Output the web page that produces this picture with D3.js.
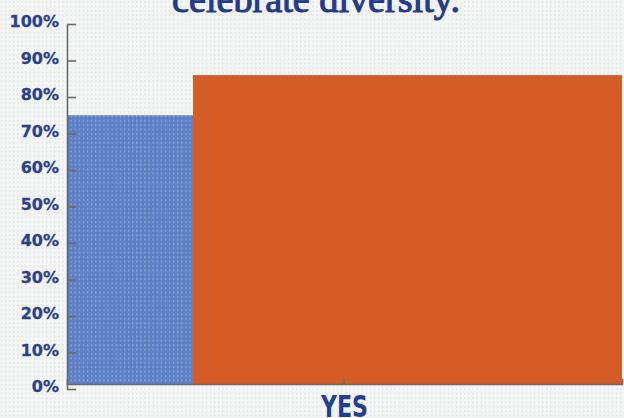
<!DOCTYPE html>
<html>
<head>
<meta charset="utf-8">
<script src="https://cdn.jsdelivr.net/npm/d3@7"></script>
<style>
  html, body { margin: 0; padding: 0; background: #f4f6f6; }
  svg { display: block; }
</style>
</head>
<body>
<svg id="chart" width="624" height="418"></svg>
<script>
// Chart data
const titleText = "celebrate diversity.";
const categories = ["YES"];
const seriesNames = ["Group A", "Group B"];
const seriesValues = [75, 86];
const seriesColors = ["#5d7fc5", "#d45c27"];
const tickValues = [0, 10, 20, 30, 40, 50, 60, 70, 80, 90, 100];

const W = 624, H = 418;
const svg = d3.select("#chart");

// Dotted backdrop patterns
const defs = svg.append("defs");
const bgDots = defs.append("pattern")
  .attr("id", "bgDots").attr("patternUnits", "userSpaceOnUse")
  .attr("width", 4.1).attr("height", 4.4);
bgDots.append("rect").attr("width", 4.1).attr("height", 4.4).attr("fill", "#f4f6f6");
bgDots.append("rect").attr("x", 1).attr("y", 1).attr("width", 1).attr("height", 2)
  .attr("fill", "#dcdfe0");

const barDots = defs.append("pattern")
  .attr("id", "barDots").attr("patternUnits", "userSpaceOnUse")
  .attr("width", 4.1).attr("height", 4.4);
barDots.append("rect").attr("width", 4.1).attr("height", 4.4).attr("fill", seriesColors[0]);
barDots.append("rect").attr("x", 1).attr("y", 1).attr("width", 1).attr("height", 2)
  .attr("fill", "#ffffff").attr("opacity", 0.38);

svg.append("rect").attr("width", W).attr("height", H).attr("fill", "url(#bgDots)");

// Scales
const y = d3.scaleLinear().domain([0, 100]).range([389, 24]);
const x = d3.scaleBand().domain(categories).range([67, 622]).paddingInner(0).paddingOuter(0);
const baseline = y(0) - 5;

// Split of the category band between the two series
const splitShare = [0, 0.227, 1];
const bandX = d => x(categories[0]) + x.bandwidth() * d;

const bars = svg.append("g");
seriesValues.forEach((v, i) => {
  bars.append("rect")
    .attr("x", bandX(splitShare[i]))
    .attr("width", bandX(splitShare[i + 1]) - bandX(splitShare[i]))
    .attr("y", y(v))
    .attr("height", baseline - y(v))
    .attr("fill", i === 0 ? "url(#barDots)" : seriesColors[i]);
});

// Y axis
const yAxis = d3.axisLeft(y)
  .tickValues(tickValues)
  .tickFormat(d => d + "%")
  .tickSizeInner(-9)
  .tickSizeOuter(0)
  .tickPadding(8);
const gy = svg.append("g").attr("transform", "translate(67,0)").call(yAxis);
gy.selectAll("path, line").attr("stroke", "#6a6a6a").attr("stroke-width", 1.6);
gy.selectAll("text")
  .attr("fill", "#2b4289")
  .attr("stroke", "#2b4289").attr("stroke-width", 0.3)
  .attr("dy", "0.32em")
  .attr("y", -2.5)
  .style("font-family", "DejaVu Sans")
  .style("font-weight", "bold")
  .style("font-size", "16px");

// X axis
const xAxis = d3.axisBottom(x).tickSizeInner(-5).tickSizeOuter(-5).tickPadding(16);
const gx = svg.append("g").attr("transform", `translate(0,${baseline})`).call(xAxis);
gx.selectAll("path, line").attr("stroke", "#6a6a6a").attr("stroke-width", 1.6);
gx.selectAll("text")
  .attr("fill", "#24408c")
  .attr("y", 33)
  .attr("dy", 0)
  .attr("textLength", 47)
  .attr("lengthAdjust", "spacingAndGlyphs")
  .style("font-family", "DejaVu Sans")
  .style("font-weight", "bold")
  .style("font-size", "30px");

// Title (partly above the frame)
svg.append("text")
  .attr("x", 316).attr("y", 12)
  .attr("text-anchor", "middle")
  .attr("fill", "#243b88")
  .attr("stroke", "#243b88").attr("stroke-width", 1.1)
  .attr("textLength", 288)
  .attr("lengthAdjust", "spacingAndGlyphs")
  .style("font-family", "Liberation Serif")
  .style("font-size", "38px")
  .text(titleText);
</script>
</body>
</html>
